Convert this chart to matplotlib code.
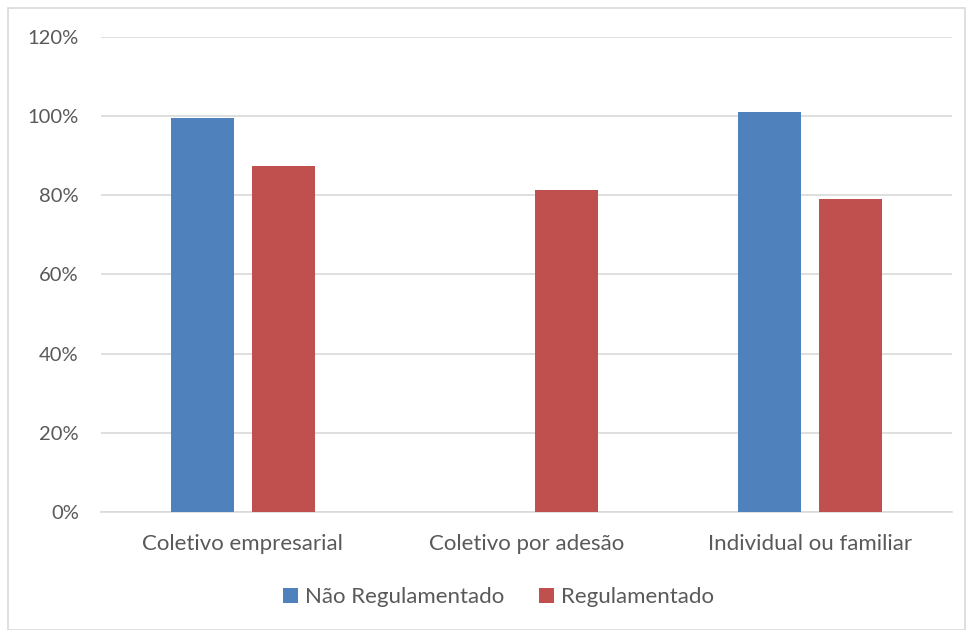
import matplotlib.pyplot as plt
import numpy as np

categories = ["Coletivo empresarial", "Coletivo por adesão", "Individual ou familiar"]
nao_regulamentado = [99.5, 0, 101.1]
regulamentado = [87.4, 81.4, 79.1]

plt.rcParams["font.family"] = ["Lato", "DejaVu Sans"]
text_color = "#595959"

fig = plt.figure(figsize=(9.73, 6.3), dpi=100)
ax = fig.add_axes([101 / 973, 1 - 512 / 630, 851 / 973, (512 - 36.7) / 630])

x = np.arange(len(categories))
w = 0.222
ax.bar(x - 0.142, nao_regulamentado, w, color="#4F81BD", label="Não Regulamentado", zorder=3)
ax.bar(x + 0.142, regulamentado, w, color="#C0504D", label="Regulamentado", zorder=3)

ax.set_xlim(-0.5, 2.5)
ax.set_ylim(0, 120)
ax.set_yticks(range(0, 121, 20))
ax.set_yticklabels([f"{v}%" for v in range(0, 121, 20)])
ax.set_xticks(x)
ax.set_xticklabels(categories)
ax.grid(axis="y", color="#D9D9D9", linewidth=1.2, zorder=0)
for s in ["top", "right", "left"]:
    ax.spines[s].set_visible(False)
ax.spines["bottom"].set_color("#D9D9D9")
ax.spines["bottom"].set_linewidth(1.2)
ax.tick_params(axis="both", length=0, colors=text_color)
ax.tick_params(axis="y", pad=16, labelsize=14.5)
ax.tick_params(axis="x", pad=16, labelsize=16)

fig.legend(loc="center", bbox_to_anchor=(0.5 + 12 / 973, 1 - 597 / 630), ncol=2, frameon=False,
           fontsize=16, labelcolor=text_color, handlelength=0.65, handleheight=0.65,
           handletextpad=0.3, columnspacing=1.6)

fig.patches.append(plt.Rectangle((8 / 973, 0), 1 - 16 / 973, 1 - 8 / 630, transform=fig.transFigure,
                                 fill=False, edgecolor="#D9D9D9", linewidth=1.2))

fig.savefig("out.png", dpi=100)
